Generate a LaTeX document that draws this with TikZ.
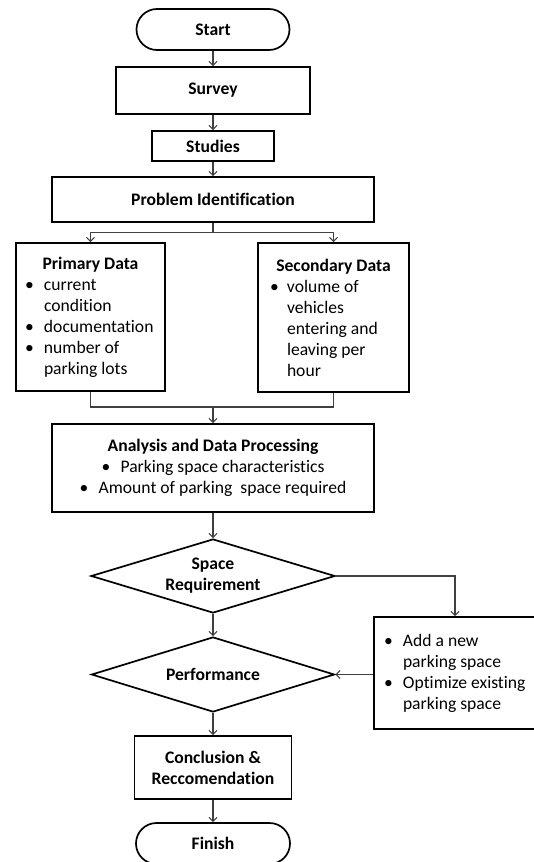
\documentclass[tikz,border=0pt]{standalone}
\usepackage{fontspec}
\setmainfont{Carlito}[Ligatures=NoCommon]
\usetikzlibrary{arrows.meta,shapes.geometric}
\newcommand\myfs{\fontsize{17.6}{21}\selectfont}
\newcommand\bul{\makebox[19pt][l]{\textbullet}}
\newcommand\ind{\hspace*{19pt}}
\newcommand\bulb{\makebox[17pt][l]{\textbullet}}
\newcommand\indb{\hspace*{17pt}}
\begin{document}
\begin{tikzpicture}[x=1pt,y=-1pt,
  blk/.style={draw=black, line width=1.7pt, inner sep=0pt, font=\myfs, text=black},
  term/.style={blk, rounded corners=20.5pt, font=\myfs\bfseries},
  proc/.style={blk, align=center, font=\myfs\bfseries},
  lst/.style={blk, align=flush left, inner xsep=9pt},
  dec/.style={blk, diamond, aspect=3.3, align=center, font=\myfs\bfseries},
  conn/.style={draw=black!75, line width=1.1pt},
  arr/.style={conn, -{Straight Barb[length=4pt,width=8pt]}}]
\useasboundingbox (0,0) rectangle (533,862);

\node[term, minimum width=153pt, minimum height=41pt] (start) at (213,29.5) {Start};
\node[proc, minimum width=194pt, minimum height=47pt] (survey) at (213,90.5) {Survey};
\node[proc, minimum width=122pt, minimum height=30pt] (studies) at (213,146) {Studies};
\node[proc, minimum width=322pt, minimum height=45pt] (prob) at (213,199.5) {Problem Identification};

\node[lst, text width=131pt, minimum height=148pt] (prim) at (90.5,317)
  {\makebox[131pt]{\textbf{Primary Data}}\\
   \bul current\\
   \ind condition\\
   \bul documentation\\
   \bul number of\\
   \ind parking lots};
\node[lst, inner xsep=12pt, text width=127pt, minimum height=149pt] (sec) at (333.5,317.5)
  {\makebox[127pt]{\textbf{Secondary Data}}\\
   \bulb volume of\\
   \indb vehicles\\
   \indb entering and\\
   \indb leaving per\\
   \indb hour};

\node[proc, minimum width=322pt, minimum height=88pt] (ana) at (213,468)
  {Analysis and Data Processing\\
   \mdseries\bul Parking space characteristics\\
   \mdseries\bul Amount of parking\ \ space required};

\node[dec, minimum width=244pt, minimum height=74pt] (d1) at (213,576) {Space\\Requirement};
\node[dec, minimum width=243pt, minimum height=75pt] (d2) at (213,674.5) {Performance};

\node[lst, inner xsep=10pt, text width=142pt, minimum height=112pt] (opt) at (455,673)
  {\bul Add a new\\
   \ind parking space\\
   \bul Optimize existing\\
   \ind parking space};

\node[proc, minimum width=157pt, minimum height=63pt] (conc) at (213,767.5) {Conclusion \&\\Reccomendation};
\node[term, minimum width=154pt, minimum height=41pt] (fin) at (213,843.5) {Finish};

\draw[arr] (start) -- (survey);
\draw[arr] (survey) -- (studies);
\draw[arr] (studies) -- (prob);
\draw[arr] (prob.south) -- ++(0,10) -| (prim.north);
\draw[arr] (prob.south) -- ++(0,10) -| (sec.north);
\coordinate (mrg) at (213,407);
\draw[conn] (prim.south) |- (mrg) -| (sec.south);
\draw[arr] (mrg) -- (ana.north);
\draw[arr] (ana) -- (d1);
\draw[arr] (d1) -- (d2);
\draw[arr] (d2) -- (conc);
\draw[arr] (conc) -- (fin);
\draw[arr] (d1.east) -| (opt.north);
\draw[arr] (opt.west |- d2.east) -- (d2.east);
\end{tikzpicture}
\end{document}
